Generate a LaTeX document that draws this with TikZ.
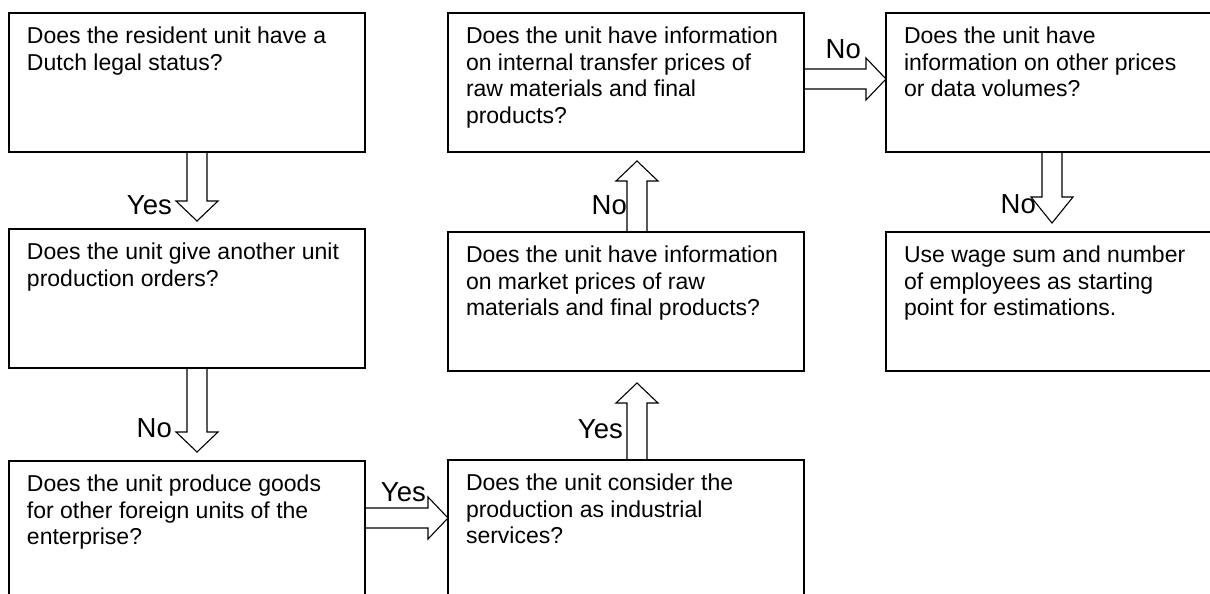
\documentclass[tikz,border=0pt]{standalone}
\usepackage{fontspec}
\setmainfont{Liberation Sans}
\usepackage{tikz}
\usetikzlibrary{calc,positioning}
\tikzstyle{qbox} = [draw, line width=1.1pt, anchor=north west, inner xsep=18pt, inner ysep=14pt, minimum width=356pt, minimum height=139pt, outer sep=0pt, font=\fontsize{23pt}{26.5pt}\selectfont]
\tikzstyle{lbl} = [anchor=base east, inner sep=0pt, font=\fontsize{27.5pt}{31pt}\selectfont]
\tikzstyle{blockarr} = [line width=1.1pt, line join=miter]
\newcommand{\qtext}[1]{\parbox[t][111pt][t]{320pt}{\raggedright #1}}
% hollow block arrow from #2 to the tip #3, head length #1
\newcommand{\blockarrow}[3][20pt]{%
  \path ($(#3)!#1!(#2)$) coordinate (hb);
  \draw[blockarr] ($(#2)!10pt!90:(#3)$) -- ($(hb)!10pt!90:(#3)$) -- ($(hb)!21pt!90:(#3)$) -- (#3)
    -- ($(hb)!21pt!-90:(#3)$) -- ($(hb)!10pt!-90:(#3)$) -- ($(#2)!10pt!-90:(#3)$);
}
\begin{document}
\begin{tikzpicture}[x=1pt, y=-1pt]
\useasboundingbox (0,0) rectangle (1210,594);
\clip (0,0) rectangle (1210,594);
% question boxes
\node[qbox] (q1) at (9,13) {\qtext{Does the resident unit have a\\Dutch legal status?}};
\node[qbox] (q2) at (9,229) {\qtext{Does the unit give another unit\\production orders?}};
\node[qbox] (q3) at (9,461) {\qtext{Does the unit produce goods\\for other foreign units of the\\enterprise?}};
\node[qbox] (q4) at (448,460) {\qtext{Does the unit consider the\\production as industrial\\services?}};
\node[qbox] (q5) at (448,232) {\qtext{Does the unit have information\\on market prices of raw\\materials and final products?}};
\node[qbox] (q6) at (448,13) {\qtext{Does the unit have information\\on internal transfer prices of\\raw materials and final\\products?}};
\node[qbox] (q7) at (886,13) {\qtext{Does the unit have\\information on other prices\\or data volumes?}};
\node[qbox] (q8) at (886,232) {\qtext{Use wage sum and number\\of employees as starting\\point for estimations.}};
% arrow ends
\coordinate (a1s) at ($(q1.south)+(10pt,0)$);
\coordinate (a1t) at ($(q2.north)+(10pt,8pt)$);
\coordinate (a2s) at ($(q2.south)+(10pt,0)$);
\coordinate (a2t) at ($(q3.north)+(10pt,9pt)$);
\coordinate (a3s) at ($(q3.north east)+(0,-57pt)$);
\coordinate (a3t) at (q4.west |- a3s);
\coordinate (a4s) at ($(q4.north)+(11pt,0)$);
\coordinate (a4t) at ($(q5.south)+(11pt,-12pt)$);
\coordinate (a5s) at ($(q5.north)+(11pt,0)$);
\coordinate (a5t) at ($(q6.south)+(11pt,-9pt)$);
\coordinate (a6s) at ($(q6.north east)+(0,-66pt)$);
\coordinate (a6t) at (q7.west |- a6s);
\coordinate (a7s) at ($(q7.south west)+(166pt,0)$);
\coordinate (a7t) at ($(q8.north west)+(166pt,9pt)$);
% block arrows
\blockarrow{a1s}{a1t}
\blockarrow{a2s}{a2t}
\blockarrow{a3s}{a3t}
\blockarrow{a4s}{a4t}
\blockarrow{a5s}{a5t}
\blockarrow{a6s}{a6t}
\blockarrow[26pt]{a7s}{a7t}
% answers
\node[lbl] (l1) at (172,214) {Yes};
\node[lbl] (l2) at (172,437) {No};
\node[lbl] (l3) at (426,501) {Yes};
\node[lbl] (l4) at (623,438) {Yes};
\node[lbl] (l5) at (627,214) {No};
\node[lbl] (l6) at (861,59) {No};
\node[lbl] (l7) at (1036,213) {No};
\end{tikzpicture}
\end{document}
